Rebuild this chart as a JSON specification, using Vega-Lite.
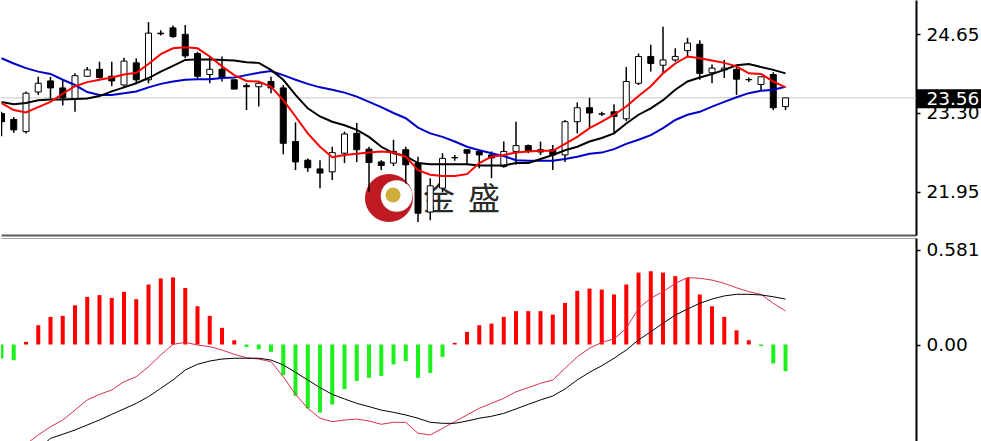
{
 "$schema": "https://vega.github.io/schema/vega-lite/v6.json",
 "padding": 0,
 "background": "white",
 "spacing": 3,
 "config": {"view": {"stroke": null}, "scale": {"continuousPadding": 0}},
 "resolve": {"scale": {"color": "independent", "strokeWidth": "independent"}},
 "datasets": {
  "candles": [
   {"i":0,"o":23.29,"h":23.32,"l":22.90,"c":23.15,"ma5":23.47,"ma10":23.49,"ma20":24.24},
   {"i":1,"o":23.19,"h":23.23,"l":22.96,"c":23.01,"ma5":23.35,"ma10":23.45,"ma20":24.15},
   {"i":2,"o":22.98,"h":23.67,"l":22.95,"c":23.64,"ma5":23.31,"ma10":23.47,"ma20":24.07},
   {"i":3,"o":23.66,"h":23.92,"l":23.61,"c":23.81,"ma5":23.40,"ma10":23.52,"ma20":24.01},
   {"i":4,"o":23.85,"h":23.92,"l":23.55,"c":23.73,"ma5":23.49,"ma10":23.53,"ma20":23.97},
   {"i":5,"o":23.73,"h":23.87,"l":23.43,"c":23.56,"ma5":23.63,"ma10":23.53,"ma20":23.87},
   {"i":6,"o":23.55,"h":23.98,"l":23.32,"c":23.94,"ma5":23.76,"ma10":23.54,"ma20":23.78},
   {"i":7,"o":23.93,"h":24.09,"l":23.92,"c":24.04,"ma5":23.83,"ma10":23.55,"ma20":23.66},
   {"i":8,"o":24.05,"h":24.18,"l":23.89,"c":23.91,"ma5":23.87,"ma10":23.59,"ma20":23.61},
   {"i":9,"o":23.93,"h":24.18,"l":23.76,"c":23.85,"ma5":23.91,"ma10":23.67,"ma20":23.61},
   {"i":10,"o":23.78,"h":24.25,"l":23.73,"c":24.19,"ma5":23.96,"ma10":23.74,"ma20":23.64},
   {"i":11,"o":24.16,"h":24.24,"l":23.81,"c":23.87,"ma5":23.99,"ma10":23.81,"ma20":23.67},
   {"i":12,"o":23.87,"h":24.86,"l":23.81,"c":24.67,"ma5":24.14,"ma10":23.90,"ma20":23.74},
   {"i":13,"o":24.67,"h":24.72,"l":24.63,"c":24.66,"ma5":24.31,"ma10":24.01,"ma20":23.80},
   {"i":14,"o":24.76,"h":24.80,"l":24.59,"c":24.61,"ma5":24.41,"ma10":24.11,"ma20":23.84},
   {"i":15,"o":24.65,"h":24.81,"l":24.24,"c":24.28,"ma5":24.43,"ma10":24.21,"ma20":23.87},
   {"i":16,"o":24.32,"h":24.35,"l":23.89,"c":23.93,"ma5":24.41,"ma10":24.22,"ma20":23.88},
   {"i":17,"o":23.96,"h":24.27,"l":23.81,"c":24.05,"ma5":24.27,"ma10":24.22,"ma20":23.88},
   {"i":18,"o":24.05,"h":24.27,"l":23.84,"c":23.90,"ma5":24.10,"ma10":24.21,"ma20":23.90},
   {"i":19,"o":23.87,"h":23.87,"l":23.71,"c":23.71,"ma5":23.95,"ma10":24.20,"ma20":23.91},
   {"i":20,"o":23.77,"h":23.81,"l":23.35,"c":23.75,"ma5":23.85,"ma10":24.17,"ma20":23.95},
   {"i":21,"o":23.75,"h":23.84,"l":23.41,"c":23.81,"ma5":23.84,"ma10":24.16,"ma20":23.99},
   {"i":22,"o":23.84,"h":23.92,"l":23.64,"c":23.73,"ma5":23.75,"ma10":24.04,"ma20":24.02},
   {"i":23,"o":23.73,"h":23.78,"l":22.59,"c":22.78,"ma5":23.52,"ma10":23.87,"ma20":23.95},
   {"i":24,"o":22.81,"h":23.14,"l":22.32,"c":22.46,"ma5":23.24,"ma10":23.61,"ma20":23.87},
   {"i":25,"o":22.49,"h":22.52,"l":22.29,"c":22.36,"ma5":22.95,"ma10":23.38,"ma20":23.80},
   {"i":26,"o":22.34,"h":22.49,"l":22.01,"c":22.27,"ma5":22.72,"ma10":23.24,"ma20":23.74},
   {"i":27,"o":22.29,"h":22.72,"l":22.15,"c":22.62,"ma5":22.54,"ma10":23.15,"ma20":23.70},
   {"i":28,"o":22.61,"h":22.98,"l":22.44,"c":22.94,"ma5":22.58,"ma10":23.09,"ma20":23.65},
   {"i":29,"o":22.95,"h":23.13,"l":22.46,"c":22.67,"ma5":22.60,"ma10":23.01,"ma20":23.58},
   {"i":30,"o":22.68,"h":22.72,"l":21.95,"c":22.45,"ma5":22.62,"ma10":22.89,"ma20":23.49},
   {"i":31,"o":22.46,"h":22.49,"l":22.32,"c":22.40,"ma5":22.64,"ma10":22.72,"ma20":23.40},
   {"i":32,"o":22.44,"h":22.84,"l":22.39,"c":22.64,"ma5":22.62,"ma10":22.61,"ma20":23.30},
   {"i":33,"o":22.67,"h":22.72,"l":22.09,"c":22.41,"ma5":22.55,"ma10":22.56,"ma20":23.21},
   {"i":34,"o":22.44,"h":22.55,"l":21.43,"c":21.58,"ma5":22.32,"ma10":22.44,"ma20":23.05},
   {"i":35,"o":21.60,"h":22.18,"l":21.46,"c":22.05,"ma5":22.24,"ma10":22.42,"ma20":22.95},
   {"i":36,"o":22.01,"h":22.61,"l":21.94,"c":22.52,"ma5":22.22,"ma10":22.42,"ma20":22.89},
   {"i":37,"o":22.53,"h":22.58,"l":22.48,"c":22.535,"ma5":22.22,"ma10":22.42,"ma20":22.81},
   {"i":38,"o":22.67,"h":22.67,"l":22.41,"c":22.61,"ma5":22.25,"ma10":22.42,"ma20":22.72},
   {"i":39,"o":22.64,"h":22.67,"l":22.35,"c":22.58,"ma5":22.44,"ma10":22.40,"ma20":22.66},
   {"i":40,"o":22.58,"h":22.64,"l":22.18,"c":22.53,"ma5":22.55,"ma10":22.40,"ma20":22.61},
   {"i":41,"o":22.38,"h":22.81,"l":22.36,"c":22.64,"ma5":22.58,"ma10":22.40,"ma20":22.56},
   {"i":42,"o":22.64,"h":23.15,"l":22.41,"c":22.74,"ma5":22.62,"ma10":22.44,"ma20":22.49},
   {"i":43,"o":22.74,"h":22.76,"l":22.61,"c":22.65,"ma5":22.64,"ma10":22.44,"ma20":22.48},
   {"i":44,"o":22.67,"h":22.81,"l":22.58,"c":22.63,"ma5":22.65,"ma10":22.51,"ma20":22.48},
   {"i":45,"o":22.67,"h":22.75,"l":22.32,"c":22.58,"ma5":22.65,"ma10":22.58,"ma20":22.48},
   {"i":46,"o":22.58,"h":23.18,"l":22.46,"c":23.15,"ma5":22.77,"ma10":22.66,"ma20":22.51},
   {"i":47,"o":23.15,"h":23.48,"l":22.95,"c":23.39,"ma5":22.89,"ma10":22.72,"ma20":22.55},
   {"i":48,"o":23.39,"h":23.56,"l":23.04,"c":23.30,"ma5":23.04,"ma10":22.81,"ma20":22.60},
   {"i":49,"o":23.28,"h":23.32,"l":23.25,"c":23.285,"ma5":23.15,"ma10":22.87,"ma20":22.62},
   {"i":50,"o":23.32,"h":23.45,"l":22.95,"c":23.24,"ma5":23.27,"ma10":22.95,"ma20":22.68},
   {"i":51,"o":23.20,"h":24.09,"l":23.16,"c":23.84,"ma5":23.41,"ma10":23.12,"ma20":22.77},
   {"i":52,"o":23.81,"h":24.32,"l":23.78,"c":24.27,"ma5":23.59,"ma10":23.27,"ma20":22.84},
   {"i":53,"o":24.27,"h":24.47,"l":24.01,"c":24.15,"ma5":23.76,"ma10":23.38,"ma20":22.92},
   {"i":54,"o":24.12,"h":24.78,"l":23.98,"c":24.21,"ma5":23.98,"ma10":23.52,"ma20":23.04},
   {"i":55,"o":24.21,"h":24.41,"l":24.18,"c":24.27,"ma5":24.15,"ma10":23.70,"ma20":23.18},
   {"i":56,"o":24.37,"h":24.59,"l":24.27,"c":24.50,"ma5":24.27,"ma10":23.84,"ma20":23.27},
   {"i":57,"o":24.48,"h":24.55,"l":23.87,"c":23.98,"ma5":24.24,"ma10":23.91,"ma20":23.32},
   {"i":58,"o":23.99,"h":24.13,"l":23.81,"c":24.07,"ma5":24.20,"ma10":23.97,"ma20":23.41},
   {"i":59,"o":24.04,"h":24.21,"l":23.90,"c":24.07,"ma5":24.16,"ma10":24.04,"ma20":23.49},
   {"i":60,"o":24.05,"h":24.12,"l":23.61,"c":23.88,"ma5":24.10,"ma10":24.12,"ma20":23.57},
   {"i":61,"o":23.87,"h":23.91,"l":23.83,"c":23.875,"ma5":23.98,"ma10":24.14,"ma20":23.64},
   {"i":62,"o":23.79,"h":23.92,"l":23.68,"c":23.92,"ma5":23.97,"ma10":24.09,"ma20":23.68},
   {"i":63,"o":23.96,"h":24.00,"l":23.35,"c":23.39,"ma5":23.84,"ma10":24.04,"ma20":23.70},
   {"i":64,"o":23.41,"h":23.56,"l":23.35,"c":23.56,"ma5":23.74,"ma10":23.98,"ma20":23.75}
  ],
  "macd": [
   {"i":0,"hist":-0.086,"macd":-0.70,"signal":-0.80},
   {"i":1,"hist":-0.096,"macd":-0.66,"signal":-0.76},
   {"i":2,"hist":0.016,"macd":-0.61,"signal":-0.71},
   {"i":3,"hist":0.118,"macd":-0.553,"signal":-0.64},
   {"i":4,"hist":0.169,"macd":-0.503,"signal":-0.574},
   {"i":5,"hist":0.175,"macd":-0.462,"signal":-0.549},
   {"i":6,"hist":0.240,"macd":-0.401,"signal":-0.523},
   {"i":7,"hist":0.291,"macd":-0.339,"signal":-0.492},
   {"i":8,"hist":0.302,"macd":-0.305,"signal":-0.462},
   {"i":9,"hist":0.285,"macd":-0.278,"signal":-0.427},
   {"i":10,"hist":0.322,"macd":-0.228,"signal":-0.394},
   {"i":11,"hist":0.277,"macd":-0.197,"signal":-0.360},
   {"i":12,"hist":0.367,"macd":-0.136,"signal":-0.319},
   {"i":13,"hist":0.404,"macd":-0.064,"signal":-0.268},
   {"i":14,"hist":0.410,"macd":0.001,"signal":-0.217},
   {"i":15,"hist":0.346,"macd":0.013,"signal":-0.156},
   {"i":16,"hist":0.234,"macd":-0.003,"signal":-0.121},
   {"i":17,"hist":0.175,"macd":-0.013,"signal":-0.101},
   {"i":18,"hist":0.102,"macd":-0.034,"signal":-0.089},
   {"i":19,"hist":0.026,"macd":-0.060,"signal":-0.084},
   {"i":20,"hist":-0.015,"macd":-0.081,"signal":-0.084},
   {"i":21,"hist":-0.029,"macd":-0.089,"signal":-0.084},
   {"i":22,"hist":-0.045,"macd":-0.105,"signal":-0.095},
   {"i":23,"hist":-0.188,"macd":-0.197,"signal":-0.125},
   {"i":24,"hist":-0.314,"macd":-0.305,"signal":-0.170},
   {"i":25,"hist":-0.391,"macd":-0.390,"signal":-0.217},
   {"i":26,"hist":-0.416,"macd":-0.451,"signal":-0.264},
   {"i":27,"hist":-0.367,"macd":-0.472,"signal":-0.305},
   {"i":28,"hist":-0.273,"macd":-0.462,"signal":-0.333},
   {"i":29,"hist":-0.223,"macd":-0.456,"signal":-0.360},
   {"i":30,"hist":-0.204,"macd":-0.468,"signal":-0.380},
   {"i":31,"hist":-0.192,"macd":-0.488,"signal":-0.401},
   {"i":32,"hist":-0.122,"macd":-0.476,"signal":-0.415},
   {"i":33,"hist":-0.102,"macd":-0.476,"signal":-0.431},
   {"i":34,"hist":-0.204,"macd":-0.543,"signal":-0.451},
   {"i":35,"hist":-0.174,"macd":-0.553,"signal":-0.476},
   {"i":36,"hist":-0.076,"macd":-0.513,"signal":-0.482},
   {"i":37,"hist":0.010,"macd":-0.472,"signal":-0.482},
   {"i":38,"hist":0.077,"macd":-0.431,"signal":-0.468},
   {"i":39,"hist":0.118,"macd":-0.390,"signal":-0.451},
   {"i":40,"hist":0.128,"macd":-0.360,"signal":-0.439},
   {"i":41,"hist":0.169,"macd":-0.329,"signal":-0.421},
   {"i":42,"hist":0.204,"macd":-0.289,"signal":-0.394},
   {"i":43,"hist":0.204,"macd":-0.264,"signal":-0.366},
   {"i":44,"hist":0.204,"macd":-0.237,"signal":-0.339},
   {"i":45,"hist":0.183,"macd":-0.217,"signal":-0.315},
   {"i":46,"hist":0.254,"macd":-0.146,"signal":-0.272},
   {"i":47,"hist":0.328,"macd":-0.075,"signal":-0.217},
   {"i":48,"hist":0.342,"macd":-0.023,"signal":-0.170},
   {"i":49,"hist":0.336,"macd":0.013,"signal":-0.130},
   {"i":50,"hist":0.306,"macd":0.034,"signal":-0.084},
   {"i":51,"hist":0.367,"macd":0.099,"signal":-0.034},
   {"i":52,"hist":0.440,"macd":0.221,"signal":0.028},
   {"i":53,"hist":0.448,"macd":0.283,"signal":0.078},
   {"i":54,"hist":0.440,"macd":0.323,"signal":0.130},
   {"i":55,"hist":0.418,"macd":0.374,"signal":0.180},
   {"i":56,"hist":0.407,"macd":0.409,"signal":0.217},
   {"i":57,"hist":0.306,"macd":0.405,"signal":0.252},
   {"i":58,"hist":0.234,"macd":0.394,"signal":0.278},
   {"i":59,"hist":0.169,"macd":0.374,"signal":0.297},
   {"i":60,"hist":0.087,"macd":0.347,"signal":0.307},
   {"i":61,"hist":0.026,"macd":0.323,"signal":0.307},
   {"i":62,"hist":-0.010,"macd":0.307,"signal":0.303},
   {"i":63,"hist":-0.116,"macd":0.252,"signal":0.292},
   {"i":64,"hist":-0.163,"macd":0.205,"signal":0.278}
  ]
 },
 "vconcat": [
  {
   "width": 915,
   "height": 235,
   "layer": [
    {
     "data": {"values": [{}]},
     "mark": {"type": "rule", "color": "#c8c8c8", "strokeWidth": 1},
     "encoding": {"y": {"datum": 23.56, "type": "quantitative", "scale": {"domain": [21.206, 25.239], "nice": false, "zero": false}, "axis": {"orient": "right", "values": [21.95, 23.3, 24.65], "format": ".2f", "title": null, "grid": false, "domainColor": "black", "domainWidth": 2, "tickColor": "black", "tickSize": 4, "tickWidth": 1.5, "labelFont": "DejaVu Sans", "labelFontSize": 18.5, "labelColor": "black", "labelPadding": 6}}}
    },
    {
     "data": {"values": [{"s": 2304, "c": "#bf1a22", "px": 31.63, "py": 21.841}, {"s": 1000, "c": "#ffffff", "px": 32.25, "py": 21.876}, {"s": 225, "c": "#cfae3c", "px": 31.96, "py": 21.893}]},
     "mark": {"type": "point", "shape": "circle", "filled": true, "opacity": 1},
     "encoding": {
      "x": {"field": "px", "type": "quantitative", "scale": {"domain": [-0.04, 74.65], "nice": false, "zero": false, "padding": 0}, "axis": {"orient": "bottom", "domain": true, "domainColor": "#5a5a5a", "domainWidth": 2, "ticks": false, "labels": false, "grid": false, "title": null}},
      "y": {"field": "py", "type": "quantitative", "scale": {"domain": [21.206, 25.239], "nice": false, "zero": false}, "axis": {"orient": "right", "values": [21.95, 23.3, 24.65], "format": ".2f", "title": null, "grid": false, "domainColor": "black", "domainWidth": 2, "tickColor": "black", "tickSize": 4, "tickWidth": 1.5, "labelFont": "DejaVu Sans", "labelFontSize": 18.5, "labelColor": "black", "labelPadding": 6}},
      "size": {"field": "s", "type": "quantitative", "scale": null},
      "color": {"field": "c", "type": "nominal", "scale": null}
     }
    },
    {
     "data": {"values": [{"t": "金", "p": 35.71}, {"t": "盛", "p": 39.39}]},
     "mark": {"type": "text", "font": "Noto Sans CJK SC", "fontSize": 32, "color": "#2a2a2a", "align": "center", "baseline": "middle"},
     "encoding": {
      "x": {"field": "p", "type": "quantitative", "scale": {"domain": [-0.04, 74.65], "nice": false, "zero": false, "padding": 0}, "axis": {"orient": "bottom", "domain": true, "domainColor": "#5a5a5a", "domainWidth": 2, "ticks": false, "labels": false, "grid": false, "title": null}},
      "y": {"datum": 21.807, "type": "quantitative", "scale": {"domain": [21.206, 25.239], "nice": false, "zero": false}, "axis": {"orient": "right", "values": [21.95, 23.3, 24.65], "format": ".2f", "title": null, "grid": false, "domainColor": "black", "domainWidth": 2, "tickColor": "black", "tickSize": 4, "tickWidth": 1.5, "labelFont": "DejaVu Sans", "labelFontSize": 18.5, "labelColor": "black", "labelPadding": 6}},
      "text": {"field": "t"}
     }
    },
    {
     "data": {"name": "candles"},
     "mark": {"type": "rule", "color": "black", "strokeWidth": 1.5, "clip": true},
     "encoding": {
      "x": {"field": "i", "type": "quantitative", "scale": {"domain": [-0.04, 74.65], "nice": false, "zero": false, "padding": 0}, "axis": {"orient": "bottom", "domain": true, "domainColor": "#5a5a5a", "domainWidth": 2, "ticks": false, "labels": false, "grid": false, "title": null}},
      "y": {"field": "l", "type": "quantitative", "scale": {"domain": [21.206, 25.239], "nice": false, "zero": false}, "axis": {"orient": "right", "values": [21.95, 23.3, 24.65], "format": ".2f", "title": null, "grid": false, "domainColor": "black", "domainWidth": 2, "tickColor": "black", "tickSize": 4, "tickWidth": 1.5, "labelFont": "DejaVu Sans", "labelFontSize": 18.5, "labelColor": "black", "labelPadding": 6}},
      "y2": {"field": "h"}
     }
    },
    {
     "data": {"name": "candles"},
     "mark": {"type": "bar", "size": 6, "stroke": "black", "strokeWidth": 1, "clip": true},
     "encoding": {
      "x": {"field": "i", "type": "quantitative", "scale": {"domain": [-0.04, 74.65], "nice": false, "zero": false, "padding": 0}, "axis": {"orient": "bottom", "domain": true, "domainColor": "#5a5a5a", "domainWidth": 2, "ticks": false, "labels": false, "grid": false, "title": null}},
      "y": {"field": "o", "type": "quantitative", "scale": {"domain": [21.206, 25.239], "nice": false, "zero": false}, "axis": {"orient": "right", "values": [21.95, 23.3, 24.65], "format": ".2f", "title": null, "grid": false, "domainColor": "black", "domainWidth": 2, "tickColor": "black", "tickSize": 4, "tickWidth": 1.5, "labelFont": "DejaVu Sans", "labelFontSize": 18.5, "labelColor": "black", "labelPadding": 6}},
      "y2": {"field": "c"},
      "fill": {"condition": {"test": "datum.c >= datum.o", "value": "white"}, "value": "black"}
     }
    },
    {
     "data": {"name": "candles"},
     "transform": [{"fold": ["ma20", "ma10", "ma5"], "as": ["ma", "val"]}],
     "mark": {"type": "line", "clip": true},
     "encoding": {
      "x": {"field": "i", "type": "quantitative", "scale": {"domain": [-0.04, 74.65], "nice": false, "zero": false, "padding": 0}, "axis": {"orient": "bottom", "domain": true, "domainColor": "#5a5a5a", "domainWidth": 2, "ticks": false, "labels": false, "grid": false, "title": null}},
      "y": {"field": "val", "type": "quantitative", "scale": {"domain": [21.206, 25.239], "nice": false, "zero": false}, "axis": {"orient": "right", "values": [21.95, 23.3, 24.65], "format": ".2f", "title": null, "grid": false, "domainColor": "black", "domainWidth": 2, "tickColor": "black", "tickSize": 4, "tickWidth": 1.5, "labelFont": "DejaVu Sans", "labelFontSize": 18.5, "labelColor": "black", "labelPadding": 6}},
      "color": {"field": "ma", "type": "nominal", "scale": {"domain": ["ma20", "ma10", "ma5"], "range": ["#0000c8", "#000000", "#ff0000"]}, "legend": null},
      "strokeWidth": {"field": "ma", "type": "nominal", "scale": {"domain": ["ma20", "ma10", "ma5"], "range": [2, 2, 2.5]}, "legend": null},
      "order": {"field": "i", "type": "quantitative"}
     }
    },
    {
     "data": {"values": [{"x1": 74.73, "x2": 80.1, "y1": 23.707, "y2": 23.381}]},
     "mark": {"type": "rect", "color": "black", "clip": false},
     "encoding": {
      "x": {"field": "x1", "type": "quantitative", "scale": {"domain": [-0.04, 74.65], "nice": false, "zero": false, "padding": 0}, "axis": {"orient": "bottom", "domain": true, "domainColor": "#5a5a5a", "domainWidth": 2, "ticks": false, "labels": false, "grid": false, "title": null}},
      "x2": {"field": "x2"},
      "y": {"field": "y1", "type": "quantitative", "scale": {"domain": [21.206, 25.239], "nice": false, "zero": false}, "axis": {"orient": "right", "values": [21.95, 23.3, 24.65], "format": ".2f", "title": null, "grid": false, "domainColor": "black", "domainWidth": 2, "tickColor": "black", "tickSize": 4, "tickWidth": 1.5, "labelFont": "DejaVu Sans", "labelFontSize": 18.5, "labelColor": "black", "labelPadding": 6}},
      "y2": {"field": "y2"}
     }
    },
    {
     "data": {"values": [{"v": "23.56", "px": 75.5, "py": 23.545}]},
     "mark": {"type": "text", "color": "white", "font": "DejaVu Sans", "fontSize": 18.5, "align": "left", "baseline": "middle", "clip": false},
     "encoding": {
      "x": {"field": "px", "type": "quantitative", "scale": {"domain": [-0.04, 74.65], "nice": false, "zero": false, "padding": 0}, "axis": {"orient": "bottom", "domain": true, "domainColor": "#5a5a5a", "domainWidth": 2, "ticks": false, "labels": false, "grid": false, "title": null}},
      "y": {"field": "py", "type": "quantitative", "scale": {"domain": [21.206, 25.239], "nice": false, "zero": false}, "axis": {"orient": "right", "values": [21.95, 23.3, 24.65], "format": ".2f", "title": null, "grid": false, "domainColor": "black", "domainWidth": 2, "tickColor": "black", "tickSize": 4, "tickWidth": 1.5, "labelFont": "DejaVu Sans", "labelFontSize": 18.5, "labelColor": "black", "labelPadding": 6}},
      "text": {"field": "v"}
     }
    }
   ]
  },
  {
   "width": 915,
   "height": 203,
   "data": {"name": "macd"},
   "encoding": {
    "x": {"field": "i", "type": "quantitative", "scale": {"domain": [-0.04, 74.65], "nice": false, "zero": false, "padding": 0}, "axis": {"orient": "top", "domain": true, "domainColor": "#a8a8a8", "domainWidth": 1, "ticks": false, "labels": false, "grid": false, "title": null}}
   },
   "layer": [
    {
     "mark": {"type": "bar", "size": 4, "clip": true},
     "encoding": {
      "y": {"field": "hist", "type": "quantitative", "scale": {"domain": [-0.5902, 0.6514], "nice": false, "zero": false}, "axis": {"orient": "right", "values": [0, 0.581], "labelExpr": "datum.value == 0 ? '0.00' : format(datum.value, '.3f')", "title": null, "grid": false, "domainColor": "black", "domainWidth": 2, "tickColor": "black", "tickSize": 4, "tickWidth": 1.5, "labelFont": "DejaVu Sans", "labelFontSize": 18.5, "labelColor": "black", "labelPadding": 6}},
      "y2": {"datum": 0},
      "color": {"condition": {"test": "datum.hist >= 0", "value": "#ff0000"}, "value": "#1ef01e"}
     }
    },
    {
     "transform": [{"fold": ["macd", "signal"], "as": ["ln", "val"]}],
     "mark": {"type": "line", "strokeWidth": 1, "clip": true},
     "encoding": {
      "y": {"field": "val", "type": "quantitative", "scale": {"domain": [-0.5902, 0.6514], "nice": false, "zero": false}, "axis": {"orient": "right", "values": [0, 0.581], "labelExpr": "datum.value == 0 ? '0.00' : format(datum.value, '.3f')", "title": null, "grid": false, "domainColor": "black", "domainWidth": 2, "tickColor": "black", "tickSize": 4, "tickWidth": 1.5, "labelFont": "DejaVu Sans", "labelFontSize": 18.5, "labelColor": "black", "labelPadding": 6}},
      "color": {"field": "ln", "type": "nominal", "scale": {"domain": ["macd", "signal"], "range": ["#d8304e", "#000000"]}, "legend": null},
      "order": {"field": "i", "type": "quantitative"}
     }
    }
   ]
  }
 ]
}
